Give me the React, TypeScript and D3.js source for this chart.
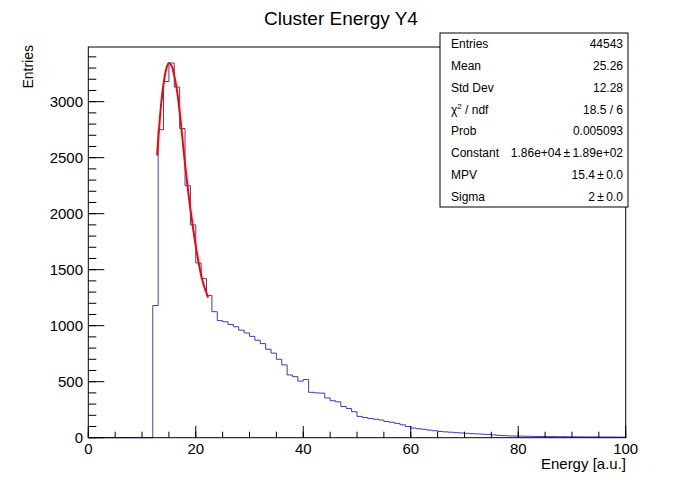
import React from "react";
import * as d3 from "d3";

const W = 684;
const H = 479;

// histogram: bins of width 1 from 0 to 100
const binEdges: number[] = d3.range(0, 101);
const counts: number[] = [
  0, 0, 0, 0, 0, 0, 0, 0, 0, 0,
  0, 0, 1180, 2750, 3180, 3345, 3130, 2760, 2250, 1900,
  1560, 1420, 1270, 1125, 1045, 1035, 1010, 990, 960, 935,
  905, 870, 840, 790, 755, 700, 650, 560, 545, 505,
  520, 405, 400, 398, 355, 330, 320, 278, 260, 232,
  190, 180, 172, 165, 158, 145, 138, 128, 115, 100,
  86, 80, 75, 68, 62, 56, 52, 49, 45, 42,
  39, 36, 34, 31, 29, 25, 21, 18, 16, 15,
  14, 13, 12, 11, 11, 10, 10, 9, 9, 8,
  8, 8, 7, 7, 7, 6, 6, 6, 5, 5,
];

// fit curve
const fitX: number[] = [12.8, 13.0, 13.5, 14.0, 14.5, 15.0, 15.5, 16.0, 16.5, 17.0, 17.5, 18.0, 18.5, 19.0, 19.5, 20.0, 20.5, 21.0, 21.5, 22.0, 22.3];
const fitY: number[] = [2520, 2650, 2950, 3160, 3290, 3345, 3320, 3230, 3100, 2910, 2680, 2440, 2230, 2040, 1870, 1710, 1570, 1450, 1360, 1290, 1250];

const xTicks: number[] = [0, 20, 40, 60, 80, 100];
const xMinor: number[] = d3.range(0, 101, 5);
const yTicks: number[] = [0, 500, 1000, 1500, 2000, 2500, 3000];
const yMinor: number[] = d3.range(0, 3401, 100);

const statLabels: string[] = ["Entries", "Mean", "Std Dev", "CHI", "Prob", "Constant", "MPV", "Sigma"];
const statValues: string[] = [
  "44543",
  "25.26",
  "12.28",
  "18.5 / 6",
  "0.005093",
  "1.86e+04\u2009\u00b1\u20091.89e+02",
  "15.4\u2009\u00b1\u20090.0",
  "2\u2009\u00b1\u20090.0",
];

const title = "Cluster Energy Y4";
const xTitle = "Energy [a.u.]";
const yTitle = "Entries";

const FL = 88.3, FR = 625.7, FT = 47, FB = 437.7;
const FONT = "'Liberation Sans', Arial, Helvetica, sans-serif";

export default function App() {
  const x = d3.scaleLinear().domain([0, 100]).range([FL, FR]);
  const y = d3.scaleLinear().domain([0, 3488]).range([FB, FT]);

  const pts: [number, number][] = [];
  pts.push([x(binEdges[0]), y(0)]);
  counts.forEach((c, i) => {
    pts.push([x(binEdges[i]), y(c)]);
    pts.push([x(binEdges[i + 1]), y(c)]);
  });
  pts.push([x(binEdges[binEdges.length - 1]), y(0)]);
  const histPath = d3.line()(pts) || "";

  const fitPath =
    d3
      .line<number>()
      .x((_, i) => x(fitX[i]))
      .y((d) => y(d))
      .curve(d3.curveCatmullRom)(fitY) || "";

  const boxL = 440, boxT = 33, boxR = 628, boxB = 207;
  const rowH = (boxB - boxT) / statLabels.length;
  const SF = 12;

  return (
    <svg width={W} height={H} style={{ position: "absolute", left: 0, top: 0, background: "#fff" }} fontFamily={FONT}>
      <rect x={0} y={0} width={W} height={H} fill="#fff" />
      <text x={341} y={25} textAnchor="middle" fontSize={19} fill="#000">{title}</text>

      <path d={histPath} fill="none" stroke="#3c3cb4" strokeWidth={1} />
      <path d={fitPath} fill="none" stroke="#ff0000" strokeWidth={2} />

      <rect x={FL} y={FT} width={FR - FL} height={FB - FT} fill="none" stroke="#000" strokeWidth={1} />

      {xMinor.map((t) => (
        <line key={"xm" + t} x1={x(t)} x2={x(t)} y1={FB} y2={FB - 6} stroke="#000" strokeWidth={1} />
      ))}
      {xTicks.map((t) => (
        <g key={"x" + t}>
          <line x1={x(t)} x2={x(t)} y1={FB} y2={FB - 11.7} stroke="#000" strokeWidth={1} />
          <text x={x(t)} y={454} textAnchor="middle" fontSize={15} fill="#000">{t}</text>
        </g>
      ))}
      {yMinor.map((t) => (
        <line key={"ym" + t} x1={FL} x2={FL + 8} y1={y(t)} y2={y(t)} stroke="#000" strokeWidth={1} />
      ))}
      {yTicks.map((t) => (
        <g key={"y" + t}>
          <line x1={FL} x2={FL + 16} y1={y(t)} y2={y(t)} stroke="#000" strokeWidth={1} />
          <text x={83} y={y(t) + 5} textAnchor="end" fontSize={15} fill="#000">{t}</text>
        </g>
      ))}

      <text x={626} y={469} textAnchor="end" fontSize={15} fill="#000">{xTitle}</text>
      <text transform={`translate(33,45) rotate(-90)`} textAnchor="end" fontSize={14} fill="#000">{yTitle}</text>

      <rect x={boxL} y={boxT} width={boxR - boxL} height={boxB - boxT} fill="#fff" stroke="#000" strokeWidth={1} />
      {statLabels.map((lab, i) => {
        const cy = boxT + rowH * (i + 0.5) + 4.5;
        return (
          <g key={"s" + i}>
            {lab === "CHI" ? (
              <text x={451} y={cy} fontSize={SF} fill="#000">
                {"\u03c7"}
                <tspan dy={-5} fontSize={8}>2</tspan>
                <tspan dy={5}>{" / ndf"}</tspan>
              </text>
            ) : (
              <text x={451} y={cy} fontSize={SF} fill="#000">{lab}</text>
            )}
            <text x={623} y={cy} textAnchor="end" fontSize={SF} fill="#000">{statValues[i]}</text>
          </g>
        );
      })}
    </svg>
  );
}
